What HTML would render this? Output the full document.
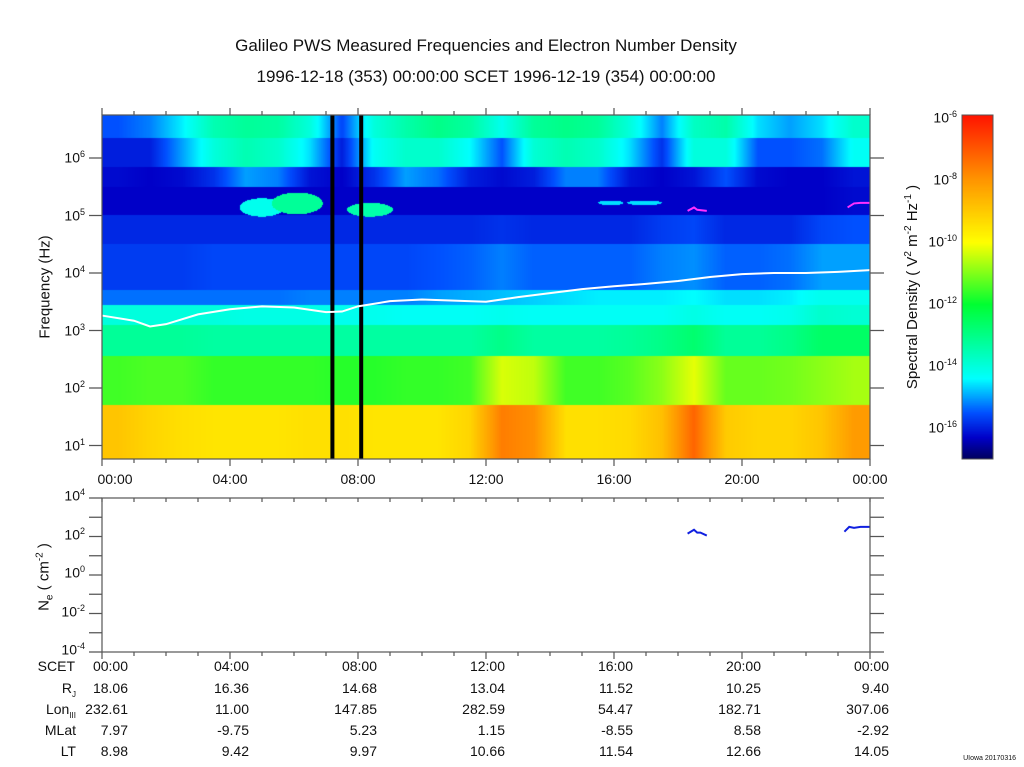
<!DOCTYPE html>
<html><head><meta charset="utf-8">
<style>
body{margin:0;background:#fff;width:1024px;height:767px;overflow:hidden;position:relative;font-family:"Liberation Sans",Arial,sans-serif;color:#111}
.t{position:absolute;white-space:nowrap}
canvas,svg{position:absolute;left:0;top:0}
</style></head><body>
<canvas id="spec" width="1024" height="767"></canvas>
<svg id="ov" width="1024" height="767"></svg>
<div class="t" style="left:0;width:972px;text-align:center;top:36px;font-size:17px">Galileo PWS Measured Frequencies and Electron Number Density</div>
<div class="t" style="left:0;width:972px;text-align:center;top:67px;font-size:17px">1996-12-18 (353) 00:00:00 SCET 1996-12-19 (354) 00:00:00</div>
<div class="t" style="left:45px;top:287px;font-size:15px;transform:translate(-50%,-50%) rotate(-90deg)">Frequency (Hz)</div>
<div class="t" style="left:912px;top:287px;font-size:15px;transform:translate(-50%,-50%) rotate(-90deg)">Spectral Density ( V<sup style="font-size:10px">2</sup> m<sup style="font-size:10px">-2</sup> Hz<sup style="font-size:10px">-1</sup> )</div>
<div class="t" style="left:45px;top:577px;font-size:15px;transform:translate(-50%,-50%) rotate(-90deg)">N<sub style="font-size:10px">e</sub> ( cm<sup style="font-size:10px">-2</sup> )</div>
<div class="t" style="right:8px;top:755px;font-size:7px">UIowa 20170316</div>
<div id="txt"></div>
<script>
// ---- data ----
const hours=[0.5,1.5,2.5,3.5,4.5,5.5,6.5,7.5,8.5,9.5,10.5,11.5,12.5,13.5,14.5,15.5,16.5,17.5,18.5,19.5,20.5,21.5,22.5,23.5];
const rowTop=[6.75,6.35,5.85,5.5,5.0,4.5,3.7,3.45,3.1,2.55,1.7];
const rowBot=[6.35,5.85,5.5,5.0,4.5,3.7,3.45,3.1,2.55,1.7,0.77];
const rowVals=[
[-15.5,-15.2,-14.5,-13.5,-13.2,-13.3,-14.0,-15.6,-14.0,-13.4,-13.0,-13.3,-14.2,-13.2,-13.0,-13.2,-14.0,-15.2,-13.7,-13.4,-14.6,-15.0,-14.6,-13.8],
[-16.0,-16.0,-15.0,-14.0,-13.5,-13.8,-14.6,-16.0,-14.3,-13.8,-13.8,-14.4,-15.5,-13.9,-13.5,-13.8,-14.6,-15.8,-14.0,-14.0,-15.5,-15.5,-15.3,-14.3],
[-16.2,-16.3,-16.2,-15.8,-15.0,-15.2,-16.1,-16.3,-15.8,-15.0,-15.3,-16.0,-16.2,-16.0,-15.2,-15.2,-16.1,-16.3,-16.1,-15.5,-16.2,-16.3,-16.3,-16.1],
[-16.3,-16.3,-16.3,-16.3,-16.3,-16.3,-16.3,-16.3,-16.3,-16.3,-16.3,-16.3,-16.3,-16.3,-16.3,-16.3,-16.3,-16.3,-16.3,-16.3,-16.3,-16.3,-16.3,-16.2],
[-15.9,-15.9,-15.9,-15.9,-15.9,-15.9,-15.9,-15.9,-15.9,-15.9,-15.9,-15.9,-15.8,-15.9,-15.9,-15.9,-15.9,-15.7,-15.6,-15.9,-15.9,-15.9,-15.6,-15.5],
[-15.7,-15.7,-15.7,-15.6,-15.6,-15.6,-15.6,-15.6,-15.6,-15.6,-15.5,-15.4,-15.2,-15.4,-15.4,-15.4,-15.4,-15.2,-15.1,-15.4,-15.4,-15.3,-15.0,-15.0],
[-15.3,-15.3,-15.3,-15.3,-15.3,-15.3,-15.2,-15.2,-15.2,-15.2,-15.0,-14.9,-14.8,-14.7,-14.6,-14.5,-14.5,-14.5,-14.4,-14.6,-14.6,-14.5,-14.2,-14.2],
[-14.0,-14.0,-14.0,-14.0,-14.1,-14.1,-14.1,-14.2,-14.2,-14.3,-14.3,-14.3,-14.2,-14.3,-14.3,-14.3,-14.3,-14.3,-14.1,-14.3,-14.3,-14.2,-13.8,-13.9],
[-13.2,-13.2,-13.2,-13.3,-13.3,-13.3,-13.3,-13.3,-13.3,-13.3,-13.3,-13.3,-13.0,-13.3,-13.3,-13.3,-13.2,-13.0,-12.7,-13.2,-13.2,-13.0,-12.6,-12.6],
[-11.5,-11.4,-11.4,-11.6,-11.6,-11.6,-11.6,-11.7,-11.7,-11.6,-11.6,-11.5,-10.3,-10.5,-11.5,-11.5,-11.3,-10.9,-10.2,-11.2,-11.2,-11.1,-10.9,-10.7],
[-8.9,-9.2,-9.4,-9.5,-9.5,-9.5,-9.4,-9.4,-9.5,-9.5,-9.5,-9.2,-7.6,-7.9,-9.4,-9.4,-9.3,-8.8,-7.2,-9.0,-9.2,-9.2,-8.9,-8.1]
];
const blobT0=[4.3,5.3,7.65,15.5,16.4];
const blobT1=[5.7,6.9,9.1,16.3,17.5];
const blobF0=[4.98,5.02,4.98,5.18,5.18];
const blobF1=[5.3,5.4,5.22,5.26,5.26];
const blobV=[-14.2,-13.2,-13.4,-14.6,-14.6];
const gapT=[7.2,8.1];
const fuhT=[0,1,1.5,2,3,4,5,6,7,7.5,8,9,10,11,12,13,14,15,16,17,18,19,20,21,22,23,24];
const fuhF=[3.26,3.17,3.07,3.11,3.28,3.37,3.42,3.40,3.32,3.33,3.42,3.51,3.54,3.52,3.50,3.58,3.65,3.72,3.77,3.81,3.86,3.93,3.98,4.0,4.0,4.02,4.05];
const magT=[[18.3,18.5,18.6,18.9],[23.3,23.5,23.7,24]];
const magF=[[5.08,5.14,5.1,5.08],[5.14,5.21,5.22,5.22]];
const neT=[[18.3,18.5,18.6,18.7,18.9],[23.2,23.35,23.5,23.7,24]];
const neV=[[2.15,2.35,2.2,2.2,2.05],[2.25,2.5,2.45,2.5,2.5]];
const cbTicks=[-6,-8,-10,-12,-14,-16];
const freqTicks=[1,2,3,4,5,6];
const neTicks=[4,2,0,-2,-4];
const timeLabels=["00:00","04:00","08:00","12:00","16:00","20:00","00:00"];
const ephRJ=["18.06","16.36","14.68","13.04","11.52","10.25","9.40"];
const ephLon=["232.61","11.00","147.85","282.59","54.47","182.71","307.06"];
const ephMLat=["7.97","-9.75","5.23","1.15","-8.55","8.58","-2.92"];
const ephLT=["8.98","9.42","9.97","10.66","11.54","12.66","14.05"];
// ---- axes ----
const X0=102,X1=870,Y0=115,Y1=459;
const xT=t=>X0+(t/24)*(X1-X0);
const yF=f=>158+(6-f)*57.5;
const fY=y=>6-(y-158)/57.5;
const tX=x=>(x-X0)/(X1-X0)*24;
const NY0=498,NY1=652;
const yN=v=>NY0+(4-v)*(NY1-NY0)/8;
const CB0=118,CBd=31;
const yC=v=>CB0+(-6-v)*CBd;
const stops=[[-17.2,[0,0,60]],[-16.3,[0,0,200]],[-15.5,[0,80,255]],[-14.4,[0,255,255]],[-12.0,[0,255,50]],[-10.0,[255,255,0]],[-8.0,[255,150,0]],[-5.9,[255,20,0]]];
function cmap(v){if(v<=stops[0][0])return stops[0][1];for(let i=1;i<stops.length;i++){if(v<=stops[i][0]){const a=stops[i-1],b=stops[i],u=(v-a[0])/(b[0]-a[0]);return a[1].map((c,k)=>Math.round(c+(b[1][k]-c)*u));}}return stops[stops.length-1][1];}
function rowVal(r,t){const arr=rowVals[r];if(t<=hours[0])return arr[0];if(t>=hours[23])return arr[23];const i=Math.floor(t-0.5);const u=t-0.5-i;return arr[i]+(arr[i+1]-arr[i])*u;}
const cv=document.getElementById('spec'),cx=cv.getContext('2d');
const img=cx.createImageData(X1-X0,Y1-Y0);
for(let py=0;py<Y1-Y0;py++){const f=fY(Y0+py+0.5);let r=rowBot.length-1;for(let k=0;k<rowTop.length;k++){if(f<=rowTop[k]&&f>rowBot[k]){r=k;break;}}
 for(let px=0;px<X1-X0;px++){const t=tX(X0+px+0.5);let v=rowVal(r,t);
  for(let b=0;b<blobV.length;b++){const ct=(blobT0[b]+blobT1[b])/2,rt=(blobT1[b]-blobT0[b])/2,cf=(blobF0[b]+blobF1[b])/2,rf=(blobF1[b]-blobF0[b])/2;const d=((t-ct)/rt)**2+((f-cf)/rf)**2;if(d<1)v=blobV[b];}
  const c=cmap(v),o=(py*(X1-X0)+px)*4;img.data[o]=c[0];img.data[o+1]=c[1];img.data[o+2]=c[2];img.data[o+3]=255;}}
cx.putImageData(img,X0,Y0);
for(let y=115;y<459;y++){const v=-6-(y-CB0)/CBd;const c=cmap(v);cx.fillStyle=`rgb(${c})`;cx.fillRect(962,y,31,1);}
const NS='http://www.w3.org/2000/svg',ov=document.getElementById('ov');
function mk(tag,at,name){const e=document.createElementNS(NS,tag);for(const k in at)e.setAttribute(k,at[k]);ov.appendChild(e);return e;}
gapT.forEach(t=>{mk('rect',{x:xT(t)-2,y:Y0,width:4,height:Y1-Y0,fill:'#000'},'data-gap-bar');});
mk('polyline',{points:fuhT.map((t,i)=>xT(t)+','+yF(fuhF[i])).join(' '),fill:'none',stroke:'#fff','stroke-width':2},'upper-hybrid-line');
magT.forEach((ts,j)=>mk('polyline',{points:ts.map((t,i)=>xT(t)+','+yF(magF[j][i])).join(' '),fill:'none',stroke:'#ff30ff','stroke-width':2},'emission-trace'));
neT.forEach((ts,j)=>mk('polyline',{points:ts.map((t,i)=>xT(t)+','+yN(neV[j][i])).join(' '),fill:'none',stroke:'#1020e0','stroke-width':2},'ne-series'));
mk('rect',{x:X0,y:Y0,width:X1-X0,height:Y1-Y0,fill:'none',stroke:'#555','stroke-width':1.2},'spectrogram-frame');
mk('rect',{x:X0,y:NY0,width:X1-X0,height:NY1-NY0,fill:'none',stroke:'#555','stroke-width':1.2},'ne-frame');
mk('rect',{x:962,y:115,width:31,height:344,fill:'none',stroke:'#555','stroke-width':1},'colorbar-frame');
let tk='';
for(let h=0;h<=24;h++){const x=xT(h),L=h%4==0?7:4;tk+=`M${x} ${Y0}v-${L}M${x} ${Y1}v${L}M${x} ${NY0}v4M${x} ${NY1}v${L}`;}
freqTicks.forEach(f=>{tk+=`M${X0} ${yF(f)}h-13M${X1} ${yF(f)}h14`;});
for(let v=-4;v<=4;v++){tk+=`M${X0} ${yN(v)}h-13M${X1} ${yN(v)}h14`;}
mk('path',{d:tk,stroke:'#555','stroke-width':1.2,fill:'none'},'axis-ticks');
const txt=document.getElementById('txt');
function lab(s,x,y,al,name,fs){const d=document.createElement('div');d.className='t';d.innerHTML=s;d.style.fontSize=(fs||14)+'px';d.style.top=(y-9)+'px';if(al=='r'){d.style.right=(1024-x)+'px';}else if(al=='c'){d.style.left=x+'px';d.style.transform='translateX(-50%)';}else d.style.left=x+'px';


txt.appendChild(d);}
freqTicks.forEach(f=>lab(`10<sup style="font-size:9px">${f}</sup>`,85,yF(f),'r','freq-tick-label'));
neTicks.forEach(v=>lab(`10<sup style="font-size:9px">${v}</sup>`,85,yN(v)-2,'r','ne-tick-label'));
cbTicks.forEach(v=>lab(`10<sup style="font-size:9px">${v}</sup>`,957,yC(v),'r','colorbar-tick-label'));
timeLabels.forEach((s,i)=>lab(s,i==0?115:xT(i*4),480,'c','time-tick-label'));
const rows=[timeLabels,ephRJ,ephLon,ephMLat,ephLT],ry=[667,689,710,731,752];
const nm=['SCET','R<sub style="font-size:8px">J</sub>','Lon<sub style="font-size:8px">III</sub>','MLat','LT'];
rows.forEach((arr,r)=>{lab(nm[r],r==0?75:76,ry[r],'r','ephemeris-row-label');arr.forEach((s,i)=>lab(s,i==0?128:xT(i*4)+19,ry[r],'r','ephemeris-value'));});
</script>
</body></html>
